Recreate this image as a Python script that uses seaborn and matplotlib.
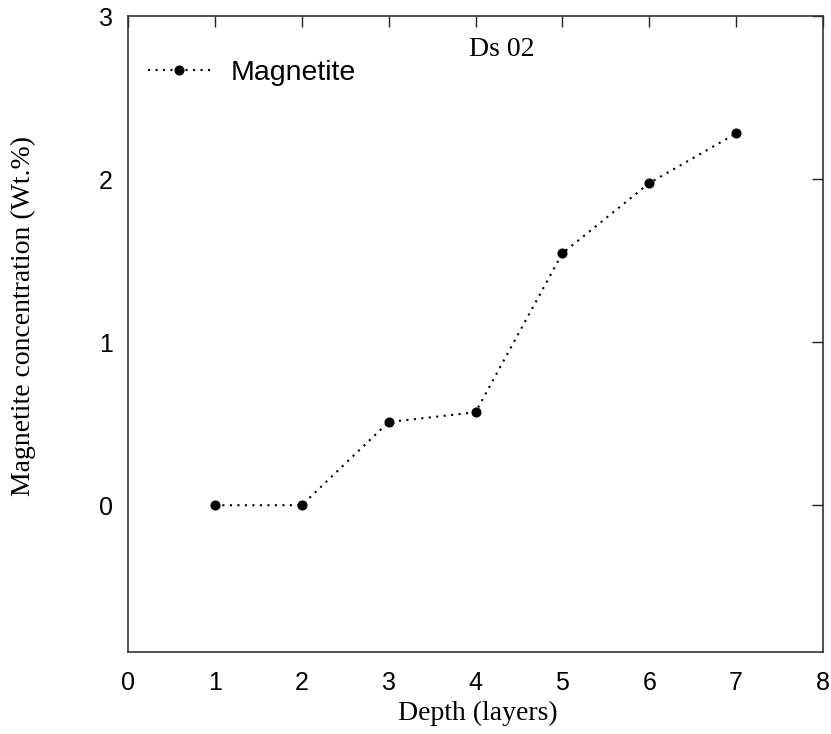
import matplotlib
matplotlib.use("Agg")
import matplotlib.pyplot as plt
import seaborn as sns
import pandas as pd

# Magnetite concentration per depth layer, core Ds 02
depth_layers = [1, 2, 3, 4, 5, 6, 7]
magnetite_wt = [0.0, 0.0, 0.51, 0.57, 1.545, 1.975, 2.28]
x_ticks = [0, 1, 2, 3, 4, 5, 6, 7, 8]
y_ticks = [0, 1, 2, 3]

df = pd.DataFrame({"Depth": depth_layers, "Magnetite": magnetite_wt})

sns.set_style("white")
plt.rcParams["font.family"] = ["Liberation Sans", "DejaVu Sans"]
plt.rcParams["text.color"] = "black"
plt.rcParams["axes.labelcolor"] = "black"

fig = plt.figure(figsize=(8.31, 7.34), dpi=100)
ax = fig.add_axes([128 / 831, 1 - 652 / 734, (823 - 128) / 831, (652 - 16) / 734])

sns.lineplot(data=df, x="Depth", y="Magnetite", ax=ax, color="black",
             linestyle=(0, (1, 2.6)), linewidth=1.5, marker="o", markersize=6.5,
             markeredgecolor="black", label="Magnetite")

ax.set_xlim(0, 8)
ax.set_ylim(-0.9, 3)
ax.set_xticks(x_ticks)
ax.set_yticks(y_ticks)
ax.tick_params(direction="in", length=8, width=1, top=True, right=True,
               labelsize=18, colors="#222222", labelcolor="black")
ax.tick_params(axis="x", labeltop=False, pad=14)
ax.tick_params(axis="y", labelright=False, pad=11)
for s in ax.spines.values():
    s.set_color("#333333")
    s.set_linewidth(1.2)
    s.set_visible(True)

ax.set_xlabel("Depth (layers)", fontfamily="Liberation Serif", fontsize=20, va="center")
ax.xaxis.set_label_coords(0.504, (652 - 713) / 636)
ax.set_ylabel("Magnetite concentration (Wt.%)", fontfamily="Liberation Serif",
              fontsize=20, va="center")
ax.yaxis.set_label_coords((23 - 128) / 695, (652 - 316) / 636)

ax.text(0.538, (652 - 49) / 636, "Ds 02", transform=ax.transAxes, ha="center",
        va="center", fontfamily="Liberation Serif", fontsize=20)

leg = ax.legend(loc="center left", bbox_to_anchor=((148 - 128) / 695, (652 - 73) / 636),
                frameon=False, fontsize=20.5, handlelength=2.2, handletextpad=0.7,
                borderpad=0, borderaxespad=0, labelcolor="black")

fig.savefig("out.png", dpi=100)
